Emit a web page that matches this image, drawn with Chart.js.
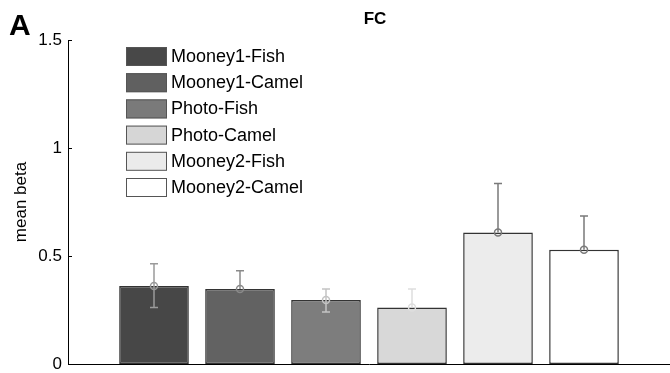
<!DOCTYPE html>
<html>
<head>
<meta charset="utf-8">
<script src="https://cdn.jsdelivr.net/npm/chart.js@4/dist/chart.umd.min.js"></script>
<style>
html,body{margin:0;padding:0;background:#fff;}
#wrap{width:670px;height:373px;position:relative;}
</style>
</head>
<body>
<div id="wrap"><canvas id="c" width="670" height="373"></canvas></div>
<script>
// ---- data ----
const categories = ['Mooney1-Fish','Mooney1-Camel','Photo-Fish','Photo-Camel','Mooney2-Fish','Mooney2-Camel'];
const meanBeta   = [0.361, 0.347, 0.296, 0.262, 0.609, 0.529];
const errUp      = [0.103, 0.085, 0.051, 0.085, 0.227, 0.156];
const errDown    = [0.100, 0.000, 0.055, 0.000, 0.000, 0.000];
const yTicks     = [0, 0.5, 1, 1.5];
const panelLabel = 'A';
const chartTitle = 'FC';
const yTitle     = 'mean beta';

// ---- styles ----
const barColors    = ['#474747','#626262','#7d7d7d','#d8d8d8','#ececec','#ffffff'];
const legendColors = ['#484848','#606060','#7a7a7a','#d6d6d6','#ebebeb','#ffffff'];
const errColors    = ['#9a9a9a','#8a8a8a','#c4c4c4','#dedede','#7a7a7a','#7a7a7a'];
const FONT = "'Liberation Sans', Arial, sans-serif";

const points = meanBeta.map((v,i)=>({x:i+1,y:v}));

const extras = {
  id:'extras',
  afterDatasetsDraw(chart){
    const ctx = chart.ctx, ys = chart.scales.y, ca = chart.chartArea;
    const meta = chart.getDatasetMeta(0);
    ctx.save();
    // error bars
    meta.data.forEach((bar,i)=>{
      const x = bar.x;
      const ym = ys.getPixelForValue(meanBeta[i]);
      const yu = ys.getPixelForValue(meanBeta[i]+errUp[i]);
      const yd = ys.getPixelForValue(meanBeta[i]-errDown[i]);
      ctx.strokeStyle = errColors[i];
      ctx.lineWidth = 1.5;
      ctx.beginPath();
      ctx.moveTo(x,yu); ctx.lineTo(x,yd);
      ctx.moveTo(x-4,yu); ctx.lineTo(x+4,yu);
      if (errDown[i]>0){ ctx.moveTo(x-4,yd); ctx.lineTo(x+4,yd); }
      ctx.stroke();
      ctx.beginPath();
      ctx.arc(x,ym,3.5,0,Math.PI*2);
      ctx.stroke();
    });
    // inward y ticks
    ctx.strokeStyle = '#000'; ctx.lineWidth = 1;
    yTicks.forEach(t=>{
      const y = Math.round(ys.getPixelForValue(t))+0.5;
      ctx.beginPath(); ctx.moveTo(ca.left, y); ctx.lineTo(ca.left+4, y); ctx.stroke();
    });
    // legend
    const lx = ca.left + 58, ly0 = ca.top + 7, pitch = 26.2;
    categories.forEach((name,i)=>{
      const y = ly0 + i*pitch;
      ctx.fillStyle = legendColors[i];
      ctx.fillRect(lx, y, 41, 19);
      ctx.strokeStyle = '#555'; ctx.lineWidth = 1;
      ctx.strokeRect(lx+0.5, y+0.5, 40, 18);
      ctx.fillStyle = '#000';
      ctx.font = '18px ' + FONT;
      ctx.textBaseline = 'middle';
      ctx.textAlign = 'left';
      ctx.fillText(name, lx+45, y+10);
    });
    // title and panel label
    ctx.fillStyle = '#000';
    ctx.font = 'bold 17px ' + FONT;
    ctx.textAlign = 'center';
    ctx.textBaseline = 'alphabetic';
    ctx.fillText(chartTitle, 375, 24);
    ctx.font = 'bold 30px ' + FONT;
    ctx.textAlign = 'left';
    ctx.fillText(panelLabel, 9, 35);
    ctx.restore();
  }
};

new Chart(document.getElementById('c'), {
  type:'bar',
  data:{
    datasets:[{
      data: points,
      backgroundColor: barColors,
      borderColor: '#333',
      borderWidth: 1.5,
      borderSkipped: false,
      barPercentage: 0.81,
      categoryPercentage: 1.0
    }]
  },
  options:{
    responsive:false,
    animation:false,
    events:[],
    layout:{padding:{top:40,bottom:9,left:0,right:0}},
    plugins:{legend:{display:false},tooltip:{enabled:false},title:{display:false}},
    scales:{
      x:{
        type:'linear', min:0, max:7, offset:false,
        afterFit(s){ s.height = 0; },
        grid:{display:false, drawTicks:false},
        border:{display:true,color:'#000',width:1},
        ticks:{display:false}
      },
      y:{
        min:0, max:1.5,
        afterFit(s){ s.width = 68; s.paddingBottom = 0; s.paddingTop = 0; },
        afterBuildTicks(s){ s.ticks = yTicks.map(v=>({value:v})); },
        grid:{display:false, drawTicks:false},
        border:{display:true,color:'#000',width:1},
        ticks:{color:'#000', font:{family:FONT,size:17}, padding:6, callback:(v)=>String(v)},
        title:{display:true,text:yTitle,color:'#000',font:{family:FONT,size:17},padding:{top:11,bottom:0}}
      }
    }
  },
  plugins:[extras]
});
</script>
</body>
</html>
